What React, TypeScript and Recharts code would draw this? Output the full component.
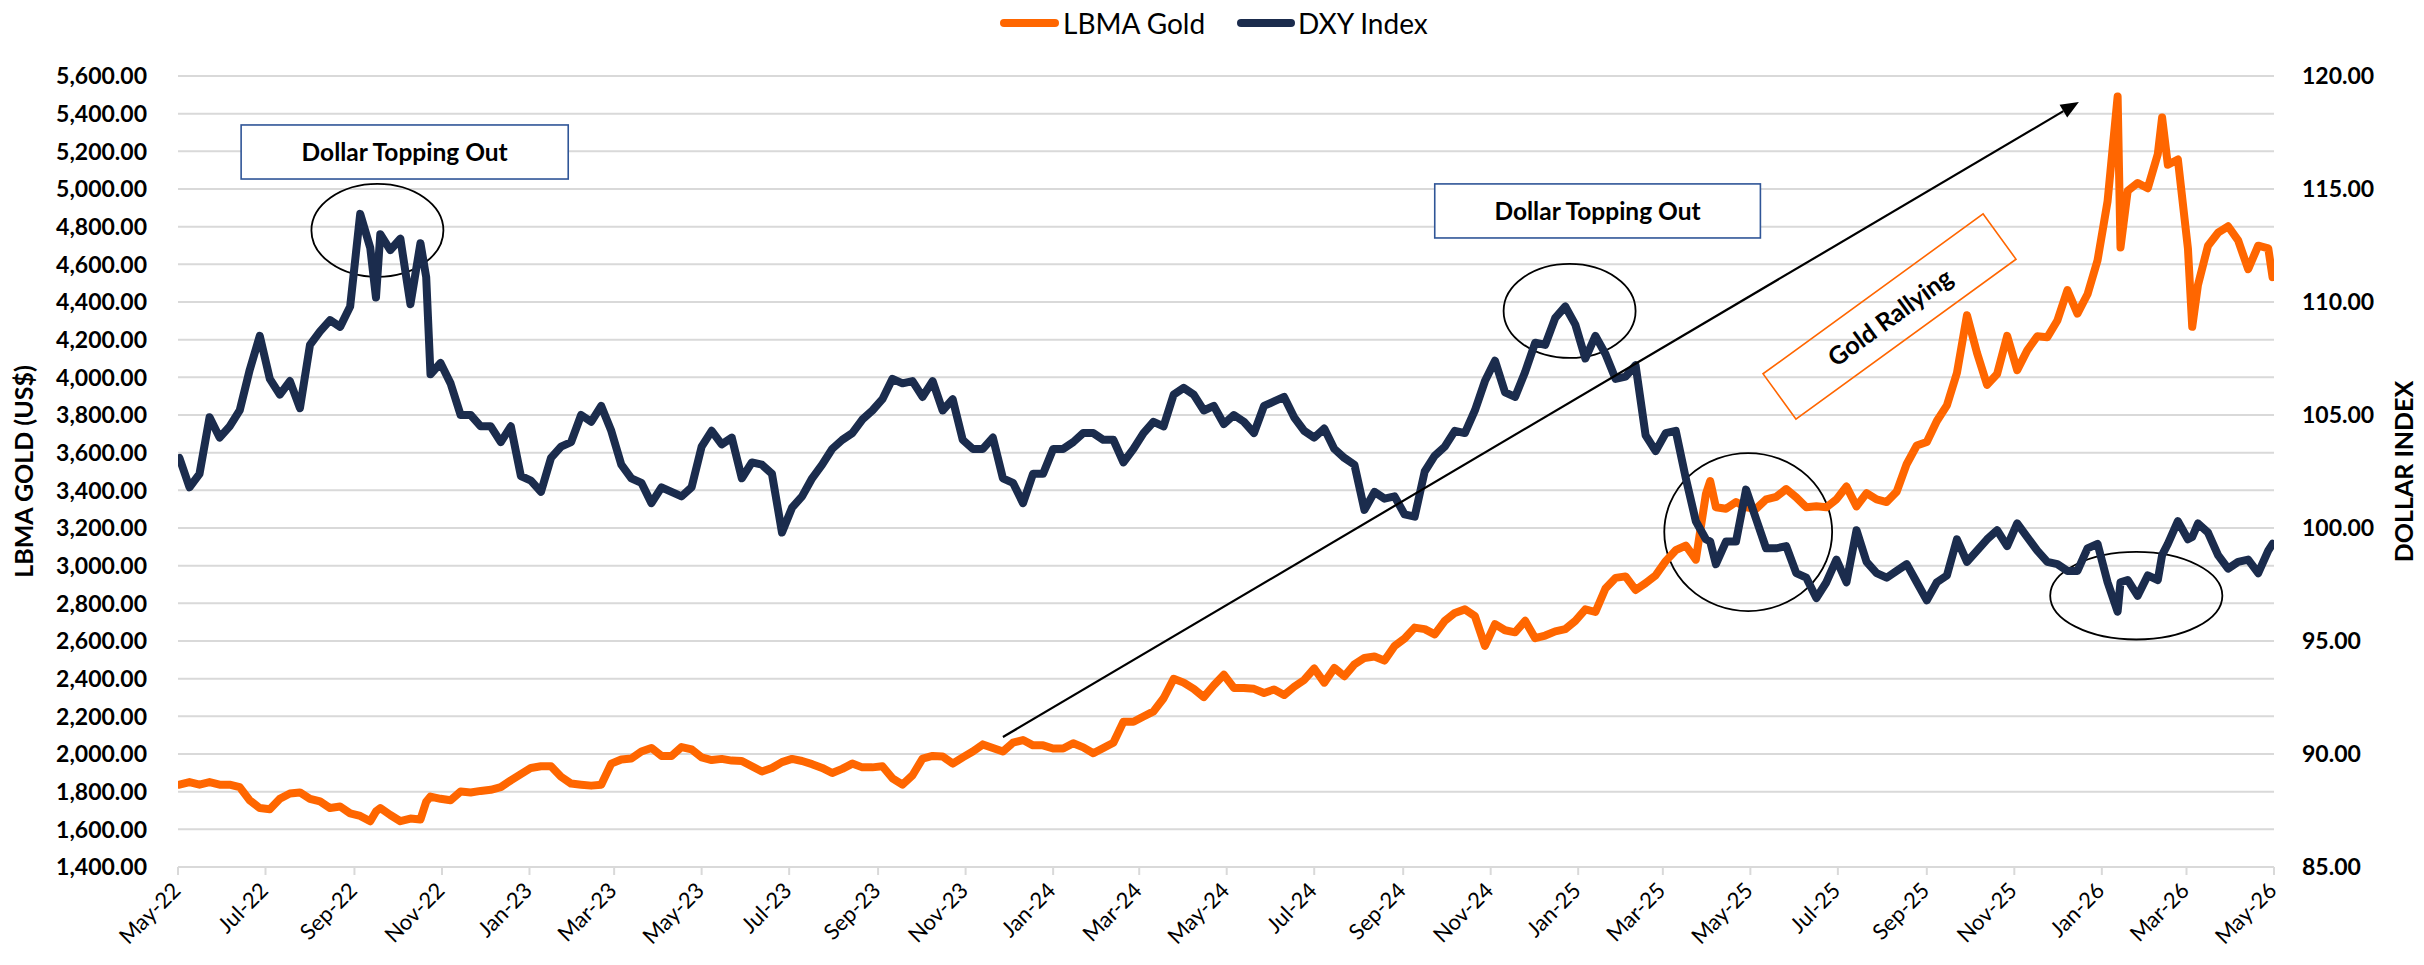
import React from "react";
import {
  LineChart,
  Line,
  XAxis,
  YAxis,
  CartesianGrid,
  ReferenceArea,
  ReferenceLine,
  ReferenceDot,
} from "recharts";

const FONT = "Lato, 'Open Sans', sans-serif";
const W = 2424;
const H = 965;

// ---------- data (weekly readings, plus a few intra-week extremes) ----------
const DATES = [
  "2022-05-02","2022-05-09","2022-05-16","2022-05-23","2022-05-30",
  "2022-06-06","2022-06-13","2022-06-20","2022-06-27",
  "2022-07-04","2022-07-11","2022-07-18","2022-07-25",
  "2022-08-01","2022-08-08","2022-08-15","2022-08-22","2022-08-29",
  "2022-09-05","2022-09-12","2022-09-16","2022-09-19","2022-09-26",
  "2022-10-03","2022-10-10","2022-10-17","2022-10-21","2022-10-24","2022-10-31",
  "2022-11-07","2022-11-14","2022-11-21","2022-11-28",
  "2022-12-05","2022-12-12","2022-12-19","2022-12-26",
  "2023-01-02","2023-01-09","2023-01-16","2023-01-23","2023-01-30",
  "2023-02-06","2023-02-13","2023-02-20","2023-02-27",
  "2023-03-06","2023-03-13","2023-03-20","2023-03-27",
  "2023-04-03","2023-04-10","2023-04-17","2023-04-24",
  "2023-05-01","2023-05-08","2023-05-15","2023-05-22","2023-05-29",
  "2023-06-05","2023-06-12","2023-06-19","2023-06-26",
  "2023-07-03","2023-07-10","2023-07-17","2023-07-24","2023-07-31",
  "2023-08-07","2023-08-14","2023-08-21","2023-08-28",
  "2023-09-04","2023-09-11","2023-09-18","2023-09-25",
  "2023-10-02","2023-10-09","2023-10-16","2023-10-23","2023-10-30",
  "2023-11-06","2023-11-13","2023-11-20","2023-11-27",
  "2023-12-04","2023-12-11","2023-12-18","2023-12-25",
  "2024-01-01","2024-01-08","2024-01-15","2024-01-22","2024-01-29",
  "2024-02-05","2024-02-12","2024-02-19","2024-02-26",
  "2024-03-04","2024-03-11","2024-03-18","2024-03-25",
  "2024-04-01","2024-04-08","2024-04-15","2024-04-22","2024-04-29",
  "2024-05-06","2024-05-13","2024-05-20","2024-05-27",
  "2024-06-03","2024-06-10","2024-06-17","2024-06-24",
  "2024-07-01","2024-07-08","2024-07-15","2024-07-22","2024-07-29",
  "2024-08-05","2024-08-12","2024-08-19","2024-08-26",
  "2024-09-02","2024-09-09","2024-09-16","2024-09-23","2024-09-30",
  "2024-10-07","2024-10-14","2024-10-21","2024-10-28",
  "2024-11-04","2024-11-11","2024-11-18","2024-11-25",
  "2024-12-02","2024-12-09","2024-12-16","2024-12-23","2024-12-30",
  "2025-01-06","2025-01-13","2025-01-20","2025-01-27",
  "2025-02-03","2025-02-10","2025-02-17","2025-02-24",
  "2025-03-03","2025-03-10","2025-03-17","2025-03-24","2025-03-31",
  "2025-04-03","2025-04-07","2025-04-14","2025-04-21","2025-04-28",
  "2025-05-05","2025-05-12","2025-05-19","2025-05-26",
  "2025-06-02","2025-06-09","2025-06-16","2025-06-23","2025-06-30",
  "2025-07-07","2025-07-14","2025-07-21","2025-07-28",
  "2025-08-04","2025-08-11","2025-08-18","2025-08-25",
  "2025-09-01","2025-09-08","2025-09-15","2025-09-22","2025-09-29",
  "2025-10-06","2025-10-13","2025-10-20","2025-10-27",
  "2025-11-03","2025-11-10","2025-11-17","2025-11-24",
  "2025-12-01","2025-12-08","2025-12-15","2025-12-22","2025-12-29",
  "2026-01-05","2026-01-12","2026-01-14","2026-01-19","2026-01-26",
  "2026-02-02","2026-02-09","2026-02-12","2026-02-16","2026-02-23",
  "2026-03-02","2026-03-05","2026-03-09","2026-03-16","2026-03-23","2026-03-30",
  "2026-04-06","2026-04-13","2026-04-20","2026-04-27","2026-04-30",
];

const GOLD = [
  1837, 1851, 1837, 1851, 1837,
  1837, 1824, 1754, 1713,
  1707, 1762, 1790, 1796,
  1762, 1748, 1713, 1721, 1685,
  1671, 1643, 1695, 1713, 1676,
  1643, 1657, 1652, 1746, 1774, 1762,
  1754, 1801, 1796, 1804,
  1810, 1824, 1860, 1893,
  1926, 1935, 1935, 1879, 1843,
  1837, 1832, 1837, 1949,
  1971, 1976, 2013, 2032,
  1990, 1990, 2037, 2024,
  1982, 1968, 1974, 1965, 1963,
  1935, 1907, 1926, 1957,
  1974, 1963, 1946, 1926, 1899,
  1921, 1949, 1929, 1929,
  1935, 1871, 1837, 1887,
  1976, 1990, 1987, 1949, 1982,
  2013, 2051, 2032, 2013,
  2060, 2074, 2046, 2046,
  2029, 2029, 2057, 2035, 2004,
  2032, 2060, 2171, 2171,
  2199, 2226, 2296, 2399,
  2379, 2346, 2302, 2365, 2421,
  2351, 2351, 2346, 2324,
  2343, 2313, 2357, 2393,
  2454, 2379, 2457, 2413, 2476,
  2510, 2518, 2496, 2574,
  2613, 2671, 2663, 2635, 2707,
  2749, 2768, 2732, 2574,
  2690, 2657, 2646, 2707,
  2615, 2629, 2651, 2663, 2707,
  2768, 2754, 2879, 2935,
  2943, 2871, 2907, 2949,
  3024, 3082, 3107, 3032, 3380,
  3449, 3310, 3302, 3338, 3310,
  3302, 3352, 3365, 3407,
  3363, 3310, 3315, 3310, 3352,
  3420, 3315, 3385, 3352,
  3338, 3393, 3540, 3638,
  3657, 3768, 3851, 4024, 4330,
  4129, 3960, 4018, 4220,
  4038, 4143, 4218, 4213,
  4302, 4463, 4338, 4441, 4621,
  4935, 5491, 4690, 4990, 5032,
  5004, 5185, 5380, 5129, 5157,
  4685, 4268, 4490, 4699, 4768, 4802,
  4727, 4574, 4699, 4685, 4532,
];

const DXY = [
  103.1, 101.8, 102.4, 104.9, 104.0,
  104.5, 105.2, 107.0, 108.5,
  106.6, 105.9, 106.5, 105.3,
  108.1, 108.7, 109.2, 108.9, 109.8,
  113.9, 112.4, 110.2, 113.0, 112.3,
  112.8, 109.9, 112.6, 111.1, 106.8, 107.3,
  106.4, 105.0, 105.0, 104.5,
  104.5, 103.8, 104.5, 102.3,
  102.1, 101.6, 103.1, 103.6, 103.8,
  105.0, 104.7, 105.4, 104.3,
  102.8, 102.2, 102.0, 101.1,
  101.8, 101.6, 101.4, 101.8,
  103.6, 104.3, 103.7, 104.0, 102.2,
  102.9, 102.8, 102.4, 99.8,
  100.9, 101.4, 102.2, 102.8, 103.5,
  103.9, 104.2, 104.8, 105.2,
  105.7, 106.6, 106.4, 106.5,
  105.8, 106.5, 105.2, 105.7, 103.9,
  103.5, 103.5, 104.0, 102.2,
  102.0, 101.1, 102.4, 102.4,
  103.5, 103.5, 103.8, 104.2, 104.2,
  103.9, 103.9, 102.9, 103.5,
  104.2, 104.7, 104.5, 105.9,
  106.2, 105.9, 105.2, 105.4, 104.6,
  105.0, 104.7, 104.2, 105.4,
  105.6, 105.8, 104.9, 104.3,
  104.0, 104.4, 103.5, 103.1, 102.8,
  100.8, 101.6, 101.3, 101.4,
  100.6, 100.5, 102.5, 103.2, 103.6,
  104.3, 104.2, 105.2, 106.5,
  107.4, 106.0, 105.8, 106.9,
  108.2, 108.1, 109.3, 109.8, 109.0,
  107.5, 108.5, 107.7, 106.6,
  106.7, 107.2, 104.1, 103.4,
  104.2, 104.3, 102.2, 100.3, 99.5,
  99.4, 98.4, 99.4, 99.4, 101.7,
  100.4, 99.1, 99.1, 99.2,
  98.0, 97.8, 96.9, 97.6, 98.6,
  97.6, 99.9, 98.5, 98.0,
  97.8, 98.1, 98.4, 97.6,
  96.8, 97.6, 97.9, 99.5, 98.5,
  99.0, 99.5, 99.9, 99.2,
  100.2, 99.6, 99.0, 98.5,
  98.4, 98.1, 98.1, 99.1, 99.3,
  97.6, 96.3, 97.6, 97.7, 97.0,
  97.9, 97.7, 98.8, 99.3, 100.3,
  99.5, 99.6, 100.2, 99.8, 98.8, 98.2,
  98.5, 98.6, 98.0, 99.0, 99.3,
];

const X_TICKS = [
  "2022-05-01","2022-07-01","2022-09-01","2022-11-01",
  "2023-01-01","2023-03-01","2023-05-01","2023-07-01","2023-09-01","2023-11-01",
  "2024-01-01","2024-03-01","2024-05-01","2024-07-01","2024-09-01","2024-11-01",
  "2025-01-01","2025-03-01","2025-05-01","2025-07-01","2025-09-01","2025-11-01",
  "2026-01-01","2026-03-01","2026-05-01",
];
const GOLD_TICKS = [
  1400, 1600, 1800, 2000, 2200, 2400, 2600, 2800, 3000, 3200, 3400,
  3600, 3800, 4000, 4200, 4400, 4600, 4800, 5000, 5200, 5400, 5600,
];
const DXY_TICKS = [85, 90, 95, 100, 105, 110, 115, 120];
const MINOR_STEP = 40;
const GOLD_MINOR_TICKS = Array.from(
  { length: (5600 - 1400) / MINOR_STEP + 1 },
  (_, i) => 1400 + i * MINOR_STEP
);
const MONTHS = ["Jan","Feb","Mar","Apr","May","Jun","Jul","Aug","Sep","Oct","Nov","Dec"];

const toT = (s: string) =>
  Date.UTC(+s.slice(0, 4), +s.slice(5, 7) - 1, +s.slice(8, 10));

const data = DATES.map((d, i) => ({ t: toT(d), gold: GOLD[i], dxy: DXY[i] }));

const GOLD_COLOR = "#FF6600";
const DXY_COLOR = "#1B2C4D";
const BOX_COLOR = "#2F5597";

const fmtMonth = (t: number) => {
  const d = new Date(t);
  return `${MONTHS[d.getUTCMonth()]}-${String(d.getUTCFullYear()).slice(2)}`;
};
const fmtNum = (v: number) =>
  v.toLocaleString("en-US", { minimumFractionDigits: 2, maximumFractionDigits: 2 });

const XTick = (props: any) => {
  const { x, y, payload } = props;
  const ax = x + 4;
  const ay = y + 15;
  return (
    <text
      x={ax}
      y={ay}
      transform={`rotate(-45 ${ax} ${ay})`}
      textAnchor="end"
      fontFamily={FONT}
      fontSize={22}
      fill="#000"
    >
      {fmtMonth(payload.value)}
    </text>
  );
};

const LeftTick = (props: any) => {
  const { x, y, payload } = props;
  return (
    <text x={x} y={y} dy="0.36em" textAnchor="end" fontFamily={FONT} fontSize={23} fontWeight={700} fill="#000">
      {fmtNum(payload.value)}
    </text>
  );
};

const RightTick = (props: any) => {
  const { x, y, payload } = props;
  return (
    <text x={x} y={y} dy="0.36em" textAnchor="start" fontFamily={FONT} fontSize={23} fontWeight={700} fill="#000">
      {fmtNum(payload.value)}
    </text>
  );
};

const axisTitle = (text: string, dx: number) => (p: any) => {
  const vb = p.viewBox || {};
  const cx = vb.x + dx;
  const cy = vb.y + vb.height / 2;
  return (
    <text
      x={cx}
      y={cy}
      transform={`rotate(-90 ${cx} ${cy})`}
      textAnchor="middle"
      dominantBaseline="central"
      fontFamily={FONT}
      fontSize={25}
      fontWeight={700}
      fill="#000"
    >
      {text}
    </text>
  );
};

// ---------- annotations (placed in data coordinates) ----------
const BOXES = [
  { x1: "2022-06-14", x2: "2023-01-28", y1: 5053, y2: 5340, text: "Dollar Topping Out" },
  { x1: "2024-09-23", x2: "2025-05-08", y1: 4740, y2: 5027, text: "Dollar Topping Out" },
];
const ELLIPSES = [
  { x1: "2022-08-02", x2: "2022-11-02", y1: 4533, y2: 5027 },
  { x1: "2024-11-10", x2: "2025-02-10", y1: 4103, y2: 4602 },
  { x1: "2025-03-02", x2: "2025-06-27", y1: 2759, y2: 3598 },
  { x1: "2025-11-26", x2: "2026-03-26", y1: 2608, y2: 3073 },
];
const ARROW = { from: { x: "2023-11-27", y: 2090 }, to: { x: "2025-12-16", y: 5462 } };
const RALLY = { x: "2025-08-06", y: 4323, text: "Gold Rallying" };

const BoxShape = (p: any) => {
  const { x, y, width, height, text } = p;
  return (
    <g>
      <rect x={x} y={y} width={width} height={height} fill="#fff" stroke={BOX_COLOR} strokeWidth={1.6} />
      <text
        x={x + width / 2}
        y={y + height / 2}
        textAnchor="middle"
        dominantBaseline="central"
        fontFamily={FONT}
        fontSize={24.5}
        fontWeight={700}
        fill="#000"
      >
        {text}
      </text>
    </g>
  );
};

const EllipseShape = (p: any) => {
  const { x, y, width, height } = p;
  return (
    <ellipse
      cx={x + width / 2}
      cy={y + height / 2}
      rx={width / 2}
      ry={height / 2}
      fill="none"
      stroke="#000"
      strokeWidth={1.8}
    />
  );
};

const ArrowShape = (p: any) => {
  const { x1, y1, x2, y2 } = p;
  const ang = Math.atan2(y2 - y1, x2 - x1);
  const len = 18;
  const hw = 7.5;
  const bx = x2 - len * Math.cos(ang);
  const by = y2 - len * Math.sin(ang);
  const nx = -Math.sin(ang);
  const ny = Math.cos(ang);
  return (
    <g>
      <line x1={x1} y1={y1} x2={bx} y2={by} stroke="#000" strokeWidth={2.2} />
      <polygon
        points={`${x2},${y2} ${bx + nx * hw},${by + ny * hw} ${bx - nx * hw},${by - ny * hw}`}
        fill="#000"
      />
    </g>
  );
};

const RallyShape = (p: any) => {
  const { cx, cy } = p;
  return (
    <g transform={`rotate(-36 ${cx} ${cy})`}>
      <rect x={cx - 136} y={cy - 28} width={272} height={56} fill="none" stroke={GOLD_COLOR} strokeWidth={1.6} />
      <text
        x={cx}
        y={cy}
        textAnchor="middle"
        dominantBaseline="central"
        fontFamily={FONT}
        fontSize={25}
        fontWeight={700}
        fill="#000"
      >
        {RALLY.text}
      </text>
    </g>
  );
};

const Legend = () => (
  <svg width={W} height={50} style={{ position: "absolute", left: 0, top: 0 }}>
    <line x1={1004} y1={23} x2={1055} y2={23} stroke={GOLD_COLOR} strokeWidth={8} strokeLinecap="round" />
    <text x={1063} y={23} dominantBaseline="central" fontFamily={FONT} fontSize={28} fill="#000">
      LBMA Gold
    </text>
    <line x1={1241} y1={23} x2={1291} y2={23} stroke={DXY_COLOR} strokeWidth={8} strokeLinecap="round" />
    <text x={1298} y={23} dominantBaseline="central" fontFamily={FONT} fontSize={28} fill="#000">
      DXY Index
    </text>
  </svg>
);

export default function App() {
  return (
    <div style={{ position: "absolute", left: 0, top: 0, width: W, height: H, background: "#fff" }}>
      <LineChart width={W} height={H} data={data} margin={{ top: 76, right: 0, bottom: 0, left: 0 }}>
        <CartesianGrid yAxisId="minor" vertical={false} stroke="#efefef" strokeWidth={1.5} />
        <CartesianGrid yAxisId="left" vertical={false} stroke="#d9d9d9" strokeWidth={2} />
        <XAxis
          dataKey="t"
          type="number"
          domain={[toT(X_TICKS[0]), toT(X_TICKS[X_TICKS.length - 1])]}
          ticks={X_TICKS.map(toT)}
          interval={0}
          height={98}
          tickSize={8}
          tick={(p: any) => <XTick {...p} />}
          axisLine={{ stroke: "#d9d9d9", strokeWidth: 2 }}
          tickLine={{ stroke: "#d9d9d9", strokeWidth: 2 }}
          allowDataOverflow
        />
        <YAxis
          yAxisId="left"
          domain={[1400, 5600]}
          ticks={GOLD_TICKS}
          interval={0}
          width={178}
          tickSize={0}
          tickMargin={31}
          axisLine={false}
          tickLine={false}
          tick={(p: any) => <LeftTick {...p} />}
          label={{ content: axisTitle("LBMA GOLD (US$)", 23) }}
        />
        <YAxis
          yAxisId="right"
          orientation="right"
          domain={[85, 120]}
          ticks={DXY_TICKS}
          interval={0}
          width={150}
          tickSize={0}
          tickMargin={28}
          axisLine={false}
          tickLine={false}
          tick={(p: any) => <RightTick {...p} />}
          label={{ content: axisTitle("DOLLAR INDEX", 129) }}
        />
        <YAxis yAxisId="minor" hide domain={[1400, 5600]} ticks={GOLD_MINOR_TICKS} interval={0} />

        <Line
          yAxisId="left"
          type="linear"
          dataKey="gold"
          name="LBMA Gold"
          stroke={GOLD_COLOR}
          strokeWidth={8}
          strokeLinejoin="round"
          strokeLinecap="round"
          dot={false}
          activeDot={false}
          isAnimationActive={false}
        />
        <Line
          yAxisId="right"
          type="linear"
          dataKey="dxy"
          name="DXY Index"
          stroke={DXY_COLOR}
          strokeWidth={8}
          strokeLinejoin="round"
          strokeLinecap="round"
          dot={false}
          activeDot={false}
          isAnimationActive={false}
        />

        {ELLIPSES.map((e, i) => (
          <ReferenceArea
            key={`el${i}`}
            yAxisId="left"
            x1={toT(e.x1)}
            x2={toT(e.x2)}
            y1={e.y1}
            y2={e.y2}
            ifOverflow="visible"
            shape={(p: any) => <EllipseShape {...p} />}
          />
        ))}
        {BOXES.map((b, i) => (
          <ReferenceArea
            key={`bx${i}`}
            yAxisId="left"
            x1={toT(b.x1)}
            x2={toT(b.x2)}
            y1={b.y1}
            y2={b.y2}
            ifOverflow="visible"
            shape={(p: any) => <BoxShape {...p} text={b.text} />}
          />
        ))}
        <ReferenceLine
          yAxisId="left"
          segment={[
            { x: toT(ARROW.from.x), y: ARROW.from.y },
            { x: toT(ARROW.to.x), y: ARROW.to.y },
          ]}
          ifOverflow="visible"
          shape={(p: any) => <ArrowShape {...p} />}
        />
        <ReferenceDot
          yAxisId="left"
          x={toT(RALLY.x)}
          y={RALLY.y}
          r={1}
          ifOverflow="visible"
          shape={(p: any) => <RallyShape {...p} />}
        />
      </LineChart>
      <Legend />
    </div>
  );
}
